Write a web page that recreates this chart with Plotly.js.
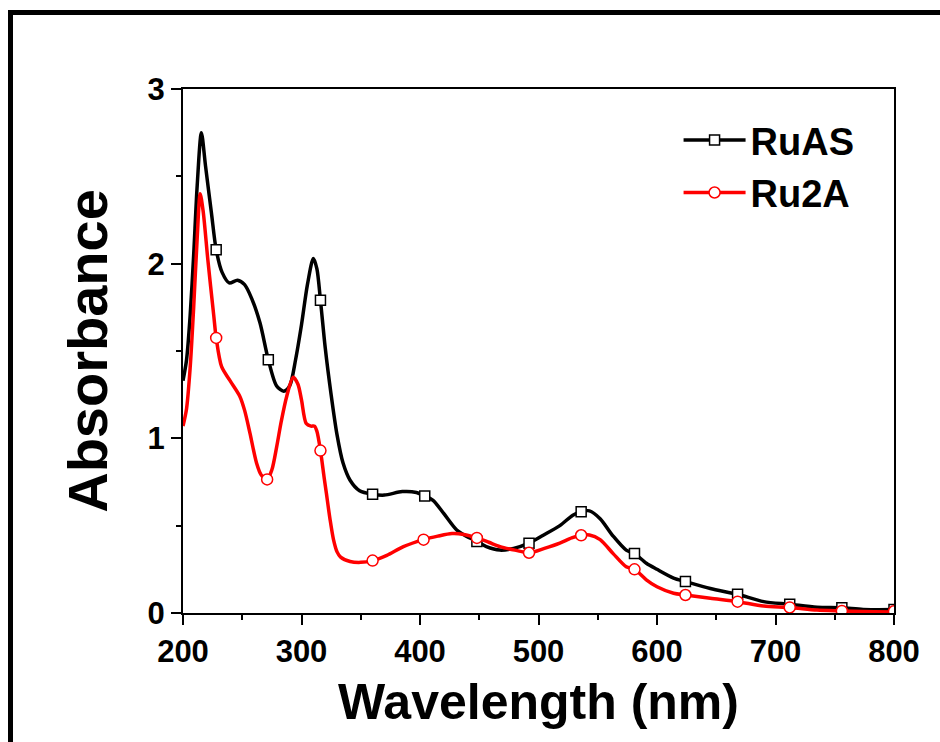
<!DOCTYPE html>
<html>
<head>
<meta charset="utf-8">
<script src="https://cdn.plot.ly/plotly-3.0.1.min.js"></script>
<style>
  html, body { margin: 0; padding: 0; background: #fff; }
  #wrap { position: relative; width: 940px; height: 742px; overflow: hidden; }
  #chart { position: absolute; left: 0; top: 0; width: 940px; height: 742px; }
  #frame { position: absolute; left: 8px; top: 10px; width: 1000px; height: 1000px;
           border: 5px solid #000; box-sizing: border-box; pointer-events: none; }
</style>
</head>
<body>
<div id="wrap">
  <div id="chart"></div>
  <div id="frame"></div>
</div>
<script>
// ---- Data ----
// RuAS (black) curve
const ruasWavelength = [200, 203, 206, 209, 212, 215.5, 219, 224, 228, 233, 239, 246, 252, 258, 265, 272, 279, 285, 290, 295, 300, 305, 310, 313, 316, 320, 325, 330, 335, 341, 349, 360, 370, 385, 397, 404, 411, 420, 431, 439, 448, 456, 467.5, 479, 492, 504, 518, 529, 536, 543, 552, 563, 574, 581, 591, 600, 614, 624, 645, 668, 690, 712, 735, 756, 774, 800];
const ruasAbsorbance = [1.33, 1.45, 1.70, 2.05, 2.45, 2.75, 2.56, 2.29, 2.08, 1.95, 1.89, 1.905, 1.88, 1.80, 1.66, 1.45, 1.30, 1.27, 1.30, 1.45, 1.65, 1.88, 2.03, 1.97, 1.79, 1.52, 1.25, 1.02, 0.86, 0.76, 0.70, 0.68, 0.675, 0.695, 0.69, 0.67, 0.645, 0.57, 0.475, 0.44, 0.41, 0.38, 0.36, 0.37, 0.40, 0.445, 0.50, 0.56, 0.58, 0.585, 0.54, 0.44, 0.36, 0.34, 0.285, 0.25, 0.20, 0.18, 0.14, 0.107, 0.065, 0.05, 0.033, 0.03, 0.02, 0.02];
// RuAS marker positions
const ruasMarkW = [228, 272, 316, 360, 404, 448, 492, 536, 581, 624, 668, 712, 756, 800];
const ruasMarkA = [2.08, 1.45, 1.79, 0.68, 0.67, 0.41, 0.40, 0.58, 0.34, 0.18, 0.107, 0.05, 0.03, 0.02];

// Ru2A (red) curve
const ru2aWavelength = [200, 203, 206, 209, 212, 214.5, 217, 221, 226, 228, 232.6, 239.7, 248, 252, 256.5, 262, 266, 271, 275, 279, 283, 287.5, 293, 297, 300, 304, 308, 311, 313, 316, 319, 321, 324, 327, 330, 333, 341, 350, 360, 372, 386, 403, 415, 427, 437, 448, 458, 467.5, 480, 492, 505, 518, 528, 536, 543, 552, 563, 574, 581, 591, 600, 614, 624, 645, 668, 690, 712, 735, 756, 774, 800];
const ru2aAbsorbance = [1.07, 1.17, 1.40, 1.75, 2.15, 2.40, 2.30, 2.02, 1.70, 1.575, 1.41, 1.33, 1.24, 1.16, 1.03, 0.86, 0.79, 0.765, 0.82, 0.95, 1.10, 1.24, 1.35, 1.31, 1.22, 1.085, 1.07, 1.07, 1.04, 0.93, 0.78, 0.685, 0.54, 0.42, 0.35, 0.32, 0.295, 0.29, 0.30, 0.33, 0.38, 0.42, 0.44, 0.455, 0.45, 0.43, 0.405, 0.38, 0.36, 0.345, 0.37, 0.40, 0.43, 0.445, 0.447, 0.42, 0.34, 0.265, 0.25, 0.19, 0.15, 0.113, 0.103, 0.084, 0.065, 0.04, 0.032, 0.017, 0.012, 0.008, 0.006];
// Ru2A marker positions
const ru2aMarkW = [228, 271, 316, 360, 403, 448, 492, 536, 581, 624, 668, 712, 756, 800];
const ru2aMarkA = [1.575, 0.765, 0.93, 0.30, 0.42, 0.43, 0.345, 0.445, 0.25, 0.103, 0.065, 0.032, 0.012, 0.01];

const seriesNames = ['RuAS', 'Ru2A'];
const xTickVals = [200, 300, 400, 500, 600, 700, 800];
const yTickVals = [0, 1, 2, 3];

const FONT = 'Liberation Sans, Arial, sans-serif';
const BLACK = '#000000';
const RED = '#ff0000';

const traces = [
  { x: ruasWavelength, y: ruasAbsorbance, type: 'scatter', mode: 'lines',
    line: { color: BLACK, width: 3.5, shape: 'spline', smoothing: 0.8 }, showlegend: false, hoverinfo: 'skip' },
  { x: ruasMarkW, y: ruasMarkA, type: 'scatter', mode: 'markers',
    marker: { symbol: 'square', size: 10, color: '#ffffff', line: { color: BLACK, width: 1.5 } }, showlegend: false },
  { x: ru2aWavelength, y: ru2aAbsorbance, type: 'scatter', mode: 'lines',
    line: { color: RED, width: 3.5, shape: 'spline', smoothing: 0.8 }, showlegend: false, hoverinfo: 'skip' },
  { x: ru2aMarkW, y: ru2aMarkA, type: 'scatter', mode: 'markers',
    marker: { symbol: 'circle', size: 11, color: '#ffffff', line: { color: RED, width: 1.5 } }, showlegend: false },
  // legend entries
  { x: [null], y: [null], type: 'scatter', mode: 'lines+markers', name: seriesNames[0],
    line: { color: BLACK, width: 3.5 },
    marker: { symbol: 'square', size: 10, color: '#ffffff', line: { color: BLACK, width: 1.5 } } },
  { x: [null], y: [null], type: 'scatter', mode: 'lines+markers', name: seriesNames[1],
    line: { color: RED, width: 3.5 },
    marker: { symbol: 'circle', size: 11, color: '#ffffff', line: { color: RED, width: 1.5 } } }
];

const layout = {
  width: 940, height: 742,
  margin: { l: 183, r: 46, t: 89, b: 129, pad: 0 },
  paper_bgcolor: '#ffffff', plot_bgcolor: '#ffffff',
  font: { family: FONT, color: BLACK },
  showlegend: true,
  legend: {
    x: 0.697, y: 0.962, xanchor: 'left', yanchor: 'top',
    bgcolor: 'rgba(0,0,0,0)', borderwidth: 0,
    font: { family: FONT, size: 38, weight: 700, color: BLACK },
    itemwidth: 62, tracegroupgap: 0
  },
  xaxis: {
    range: [200, 800], tickvals: xTickVals, ticks: 'outside', ticklen: 10, tickwidth: 2,
    tickcolor: BLACK, showline: true, linewidth: 2, linecolor: BLACK, mirror: true,
    showgrid: false, zeroline: false,
    minor: { dtick: 50, tick0: 200, ticks: 'outside', ticklen: 5, tickwidth: 2, tickcolor: BLACK, showgrid: false },
    tickfont: { family: FONT, size: 31, weight: 700, color: BLACK },
    title: { text: 'Wavelength (nm)', font: { family: FONT, size: 50, weight: 700, color: BLACK }, standoff: 16 }
  },
  yaxis: {
    range: [0, 3], tickvals: yTickVals, ticks: 'outside', ticklen: 10, tickwidth: 2,
    tickcolor: BLACK, showline: true, linewidth: 2, linecolor: BLACK, mirror: true,
    showgrid: false, zeroline: false,
    minor: { dtick: 0.5, tick0: 0, ticks: 'outside', ticklen: 5, tickwidth: 2, tickcolor: BLACK, showgrid: false },
    tickfont: { family: FONT, size: 31, weight: 700, color: BLACK },
    title: { text: 'Absorbance', font: { family: FONT, size: 56, weight: 700, color: BLACK }, standoff: 22 }
  }
};

Plotly.newPlot('chart', traces, layout, { staticPlot: true, displayModeBar: false });
</script>
</body>
</html>
